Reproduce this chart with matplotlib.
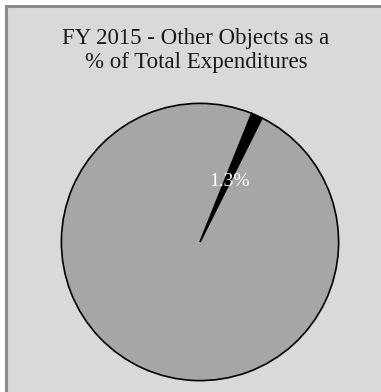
import matplotlib
matplotlib.use("Agg")
import matplotlib.pyplot as plt
from matplotlib.patches import Rectangle

# Data
labels = ['Other Objects', 'Everything Else']
shares = [1.3, 98.7]
colors = ['black', '#a6a6a6']

W, H = 381, 392
fig = plt.figure(figsize=(W / 100, H / 100), dpi=100)
fig.patch.set_facecolor('white')

# chart area with a grey border, running off the right and bottom edges
bg = fig.add_axes([0, 0, 1, 1], zorder=-1)
bg.set_xlim(0, W)
bg.set_ylim(H, 0)
bg.axis('off')
bg.add_patch(Rectangle((6, 5.5), 400, 400, facecolor='#d9d9d9',
                       edgecolor='#8c8c8c', linewidth=2.2))

fig.text(196 / W, 1 - 50.5 / H, 'FY 2015 - Other Objects as a\n% of Total Expenditures',
         ha='center', va='center', fontsize=16.5, family='Liberation Serif',
         color='#1a1a1a', linespacing=1.2)

ax = fig.add_axes([60 / W, 10 / H, 280 / W, 280 / H])
wedges, texts = ax.pie(shares, colors=colors, startangle=90 - 21.9, counterclock=False,
                       wedgeprops=dict(edgecolor='black', linewidth=1.2),
                       radius=1.0)
ax.text(0.21, 0.44, f'{shares[0]}%', ha='center', va='center', color='white',
        fontsize=14, family='Liberation Serif')
ax.set_xlim(-1.01, 1.01)
ax.set_ylim(-1.01, 1.01)
ax.set_aspect('equal')
ax.axis('off')

fig.savefig('out.png', dpi=100)
